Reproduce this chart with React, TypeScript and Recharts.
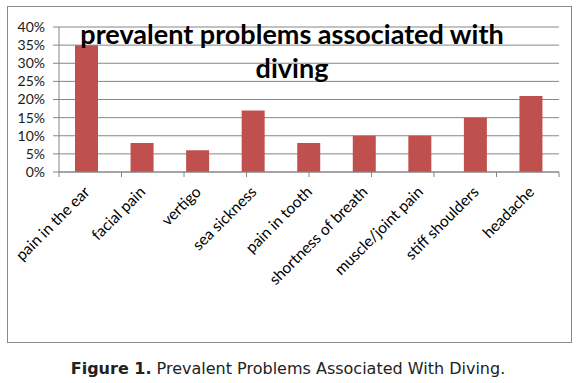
import React from 'react';
import { BarChart, Bar, XAxis, YAxis, CartesianGrid } from 'recharts';

const categories = ['pain in the ear', 'facial pain', 'vertigo', 'sea sickness', 'pain in tooth', 'shortness of breath', 'muscle/joint pain', 'stiff shoulders', 'headache'];
const values = [0.35, 0.08, 0.06, 0.17, 0.08, 0.10, 0.10, 0.15, 0.21];
const yTicks = [0, 0.05, 0.1, 0.15, 0.2, 0.25, 0.3, 0.35, 0.4];
const boundaryTicks = [0, 1, 2, 3, 4, 5, 6, 7, 8, 9];

const data = categories.map((c, i) => ({ name: c, value: values[i] }));

const XTick = (props: any) => {
  const { x, y, payload } = props;
  return (
    <g transform={`translate(${x + 4},${y + 12})`}>
      <text transform="rotate(-45)" textAnchor="end" fontSize={15.5} fontFamily="Lato, 'Open Sans', sans-serif" fill="#000">
        {payload.value}
      </text>
    </g>
  );
};

const EmptyTick = () => <g />;

export default function App() {
  return (
    <div style={{ position: 'fixed', left: 0, top: 0, width: 576, height: 383, background: '#fff' }}>
      <div style={{ position: 'absolute', left: 7, top: 6, width: 563, height: 335, border: '1px solid #8a8a8a' }} />
      <div style={{ position: 'absolute', left: 0, top: 0 }}>
        <BarChart width={576} height={383} data={data} margin={{ top: 27, right: 17, bottom: 91, left: 0 }}>
          <CartesianGrid vertical={false} stroke="#868686" strokeWidth={1} />
          <XAxis xAxisId="a_edge" type="number" domain={[0, 9]} ticks={boundaryTicks} interval={0} height={1} tick={<EmptyTick />} tickSize={5} tickLine={{ stroke: '#868686' }} axisLine={{ stroke: '#868686' }} />
          <XAxis dataKey="name" xAxisId="b_cat" height={119} tickLine={false} axisLine={false} interval={0} tick={<XTick />} />
          <YAxis width={59} domain={[0, 0.4]} ticks={yTicks} interval={0} tickSize={6} tickMargin={8} tickLine={{ stroke: '#868686' }} axisLine={{ stroke: '#868686' }}
            tickFormatter={(v: number) => `${Math.round(v * 100)}%`}
            tick={{ fontSize: 14, fill: '#1a1a1a', fontFamily: "Lato, 'Open Sans', sans-serif" }} />
          <Bar dataKey="value" xAxisId="b_cat" fill="#C0504D" barSize={23} isAnimationActive={false} />
        </BarChart>
      </div>
      <div style={{ position: 'absolute', left: 0, width: 576, top: 17, textAlign: 'center', paddingLeft: 8, boxSizing: 'border-box', fontFamily: "Lato, 'Open Sans', sans-serif", fontWeight: 'bold', fontSize: 27, lineHeight: '34px', color: '#000' }}>
        prevalent problems associated with<br />diving
      </div>
      <div style={{ position: 'absolute', left: 0, width: 576, top: 359, textAlign: 'center', fontFamily: "'DejaVu Sans', sans-serif", fontSize: 16, color: '#222' }}>
        <b>Figure 1.</b> Prevalent Problems Associated With Diving.
      </div>
    </div>
  );
}
